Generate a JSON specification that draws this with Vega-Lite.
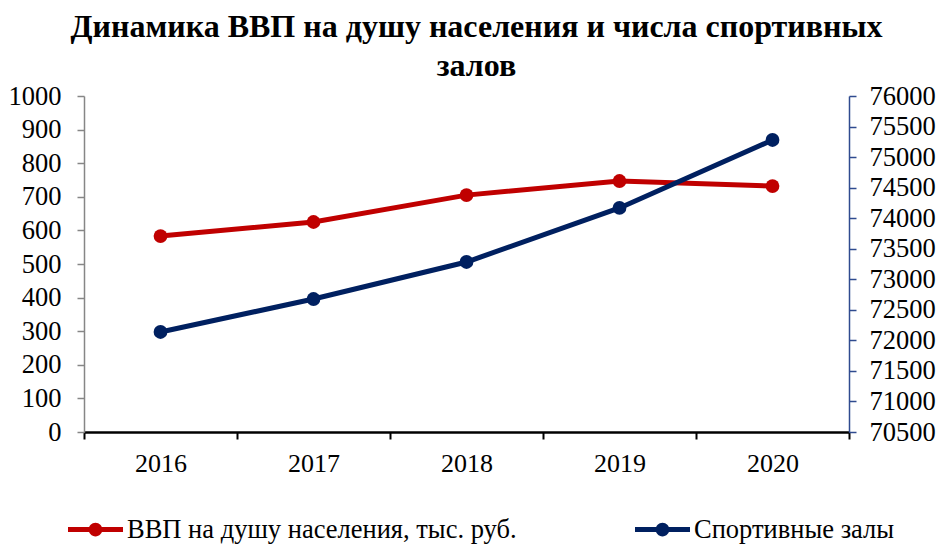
{
  "$schema": "https://vega.github.io/schema/vega-lite/v6.json",
  "autosize": "none",
  "width": 765,
  "height": 336,
  "padding": {"left": 84, "top": 96, "right": 92, "bottom": 113},
  "background": "white",
  "config": {
    "view": {"stroke": null},
    "font": "Liberation Serif, Times New Roman, serif"
  },
  "title": {
    "text": ["Динамика ВВП на душу населения и числа спортивных", "залов"],
    "font": "Liberation Serif, Times New Roman, serif",
    "fontSize": 32,
    "fontWeight": "bold",
    "color": "#000000",
    "lineHeight": 39,
    "anchor": "middle",
    "dx": 10,
    "offset": 0
  },
  "data": {
    "values": [
      {"year": "2016", "series": "ВВП на душу населения, тыс. руб.", "value": 583},
      {"year": "2017", "series": "ВВП на душу населения, тыс. руб.", "value": 625},
      {"year": "2018", "series": "ВВП на душу населения, тыс. руб.", "value": 705},
      {"year": "2019", "series": "ВВП на душу населения, тыс. руб.", "value": 747},
      {"year": "2020", "series": "ВВП на душу населения, тыс. руб.", "value": 732},
      {"year": "2016", "series": "Спортивные залы", "value": 72137},
      {"year": "2017", "series": "Спортивные залы", "value": 72677},
      {"year": "2018", "series": "Спортивные залы", "value": 73283},
      {"year": "2019", "series": "Спортивные залы", "value": 74167},
      {"year": "2020", "series": "Спортивные залы", "value": 75280}
    ]
  },
  "encoding": {
    "x": {
      "field": "year",
      "type": "ordinal",
      "bandPosition": 0.5,
      "scale": {"type": "band", "paddingInner": 0, "paddingOuter": 0},
      "axis": {
        "title": null,
        "labelAngle": 0,
        "labelFont": "Liberation Serif, Times New Roman, serif",
        "labelFontSize": 26,
        "labelColor": "#000000",
        "labelPadding": 11,
        "domainColor": "#000000",
        "domainWidth": 2.5,
        "tickColor": "#000000",
        "tickWidth": 2,
        "tickSize": 7,
        "tickBand": "extent",
        "grid": false
      }
    },
    "color": {
      "field": "series",
      "type": "nominal",
      "scale": {
        "domain": ["ВВП на душу населения, тыс. руб.", "Спортивные залы"],
        "range": ["#C00000", "#002060"]
      },
      "legend": {
        "title": null,
        "orient": "none",
        "direction": "horizontal",
        "columns": 2,
        "legendX": -16,
        "legendY": 406,
        "columnPadding": 118,
        "labelFont": "Liberation Serif, Times New Roman, serif",
        "labelFontSize": 26.5,
        "labelColor": "#000000",
        "labelOffset": 4,
        "labelLimit": 0,
        "symbolType": "M-1,-0.09H1V0.09H-1Z M-0.25,0A0.25,0.25,0,1,1,0.25,0A0.25,0.25,0,1,1,-0.25,0Z",
        "symbolSize": 3025,
        "symbolStrokeWidth": 0,
        "encode": {
          "symbols": {"update": {"fill": {"scale": "color", "field": "value"}, "fillOpacity": {"value": 1}, "strokeWidth": {"value": 0}}}
        }
      }
    }
  },
  "layer": [
    {
      "transform": [{"filter": "datum.series === 'ВВП на душу населения, тыс. руб.'"}],
      "encoding": {
        "y": {
          "field": "value",
          "type": "quantitative",
          "scale": {"domain": [0, 1000], "nice": false, "zero": false},
          "axis": {
            "title": null,
            "orient": "left",
            "values": [0, 100, 200, 300, 400, 500, 600, 700, 800, 900, 1000],
            "format": "d",
            "labelFont": "Liberation Serif, Times New Roman, serif",
            "labelFontSize": 26.5,
            "labelColor": "#000000",
            "labelPadding": 16,
            "domainColor": "#868686",
            "domainWidth": 1.5,
            "tickColor": "#868686",
            "tickWidth": 1.5,
            "tickSize": 7,
            "grid": false
          }
        }
      },
      "layer": [
        {"mark": {"type": "line", "strokeWidth": 5}},
        {"mark": {"type": "point", "filled": true, "size": 190, "opacity": 1}}
      ]
    },
    {
      "transform": [{"filter": "datum.series === 'Спортивные залы'"}],
      "encoding": {
        "y": {
          "field": "value",
          "type": "quantitative",
          "scale": {"domain": [70500, 76000], "nice": false, "zero": false},
          "axis": {
            "title": null,
            "orient": "right",
            "values": [70500, 71000, 71500, 72000, 72500, 73000, 73500, 74000, 74500, 75000, 75500, 76000],
            "format": "d",
            "labelFont": "Liberation Serif, Times New Roman, serif",
            "labelFontSize": 26.5,
            "labelColor": "#000000",
            "labelPadding": 13,
            "domainColor": "#2F4B8F",
            "domainWidth": 1.5,
            "tickColor": "#2F4B8F",
            "tickWidth": 1.5,
            "tickSize": 7,
            "grid": false
          }
        }
      },
      "layer": [
        {"mark": {"type": "line", "strokeWidth": 5}},
        {"mark": {"type": "point", "filled": true, "size": 190, "opacity": 1}}
      ]
    }
  ],
  "resolve": {"scale": {"y": "independent"}}
}
